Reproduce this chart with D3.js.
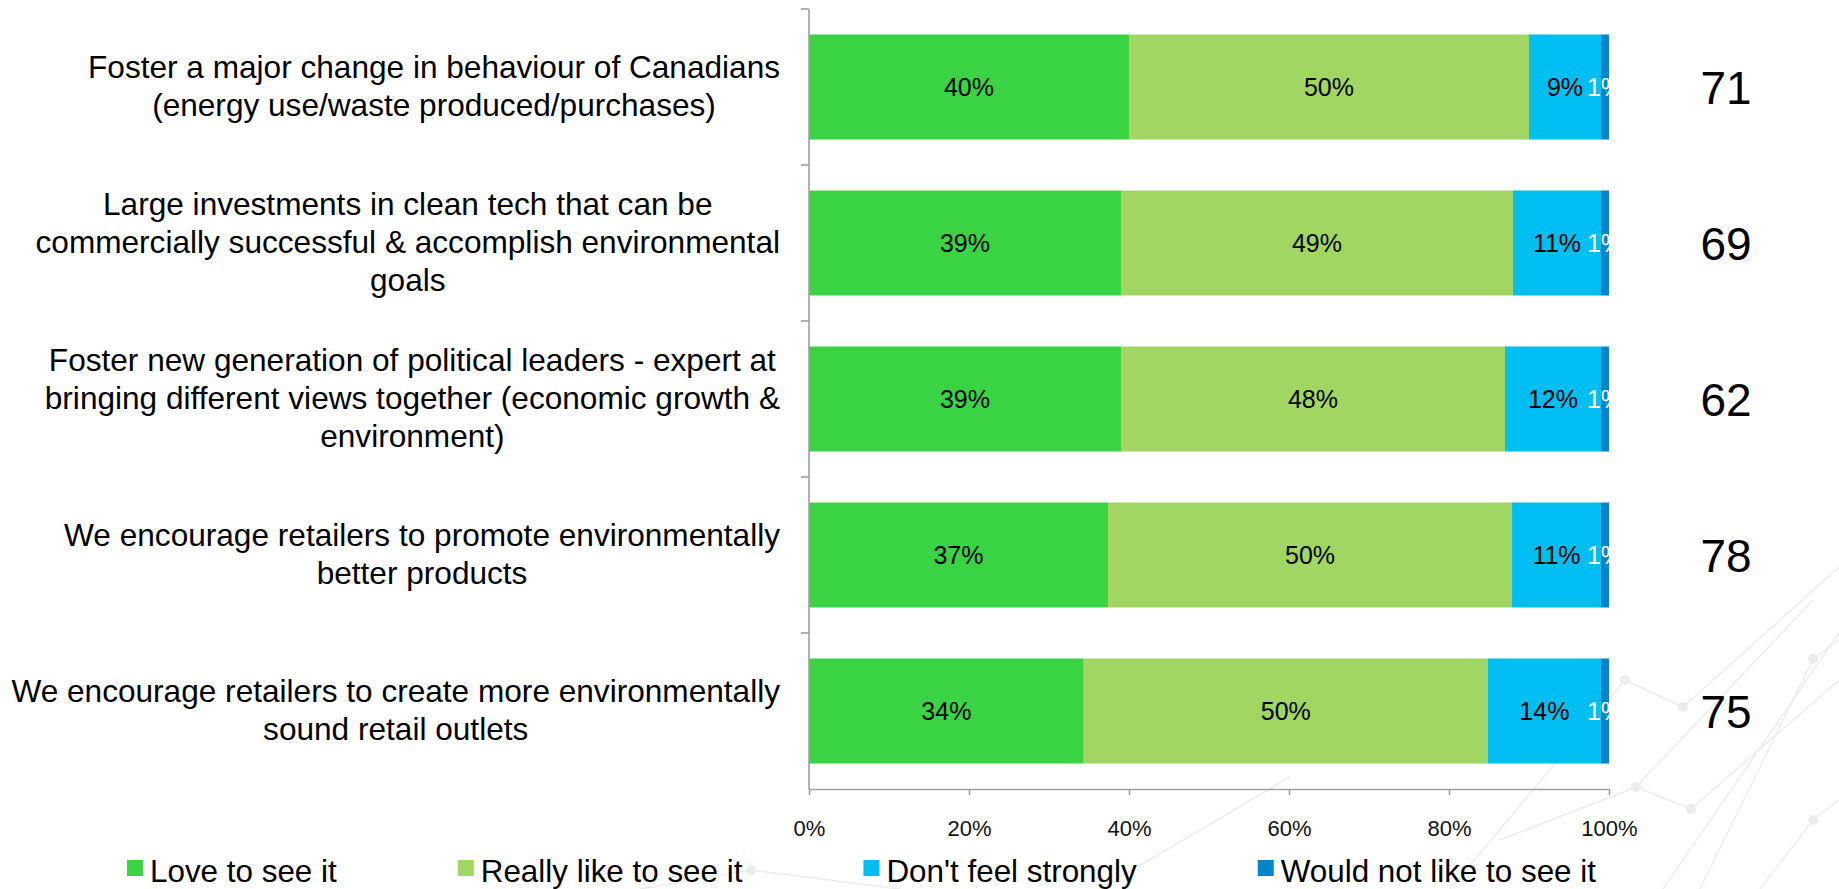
<!DOCTYPE html>
<html>
<head>
<meta charset="utf-8">
<script src="https://cdn.jsdelivr.net/npm/d3@7"></script>
<style>
  html, body { margin: 0; padding: 0; background: #ffffff; }
  svg { display: block; font-family: "Liberation Sans", Arial, sans-serif; }
</style>
</head>
<body>
<svg id="chart" width="1839" height="889"></svg>
<script>
// Survey items (line breaks as wrapped in the category labels)
const categories = [
  "Foster a major change in behaviour of Canadians\n(energy use/waste produced/purchases)",
  "Large investments in clean tech that can be\ncommercially successful & accomplish environmental\ngoals",
  "Foster new generation of political leaders - expert at\nbringing different views together (economic growth &\nenvironment)",
  "We encourage retailers to promote environmentally\nbetter products",
  "We encourage retailers to create more environmentally\nsound retail outlets"
];
const seriesNames = ["Love to see it", "Really like to see it", "Don't feel strongly", "Would not like to see it"];
const loveToSee  = [40, 39, 39, 37, 34];
const reallyLike = [50, 49, 48, 50, 50];
const dontFeel   = [9, 11, 12, 11, 14];
const wouldNot   = [1, 1, 1, 1, 1];
const scores     = [71, 69, 62, 78, 75];
const xTickValues = [0, 0.2, 0.4, 0.6, 0.8, 1];

const colors = ["#39d343", "#a1d662", "#00bdf2", "#0085cc"];
const labelColors = ["#000000", "#000000", "#000000", "#ffffff"];

const svg = d3.select("#chart");

// faint network-pattern backdrop
const deco = svg.append("g").attr("class", "backdrop");
const decoLines = [
  [[1625, 680], [1683, 707]], [[1683, 707], [1839, 567]], [[1625, 680], [1450, 889]],
  [[1813, 659], [1839, 640]], [[1813, 659], [1700, 889]], [[1636, 787], [1691, 809]],
  [[1691, 809], [1839, 680]], [[1636, 787], [1813, 600]], [[1813, 820], [1839, 800]],
  [[1663, 889], [1839, 633]], [[1290, 777], [1100, 889]], [[1500, 840], [1636, 787]],
  [[751, 870], [640, 889]], [[751, 870], [900, 889]], [[1813, 820], [1760, 889]]
];
const decoDots = [[1625, 680], [1683, 707], [1813, 659], [1636, 787], [1691, 809], [1813, 820], [751, 870]];
deco.selectAll("line").data(decoLines).join("line")
  .attr("x1", d => d[0][0]).attr("y1", d => d[0][1])
  .attr("x2", d => d[1][0]).attr("y2", d => d[1][1])
  .attr("stroke", "#ededed").attr("stroke-width", 1.5);
deco.selectAll("circle").data(decoDots).join("circle")
  .attr("cx", d => d[0]).attr("cy", d => d[1]).attr("r", 5)
  .attr("fill", "#ececec");

// plot area
const plot = { left: 809, right: 1609, top: 9, bottom: 789 };

const x = d3.scaleLinear().domain([0, 1]).range([plot.left, plot.right]);
const y = d3.scaleBand().domain(d3.range(categories.length))
  .range([plot.top, plot.bottom]).paddingInner(0.327).paddingOuter(0.1635);

const rows = categories.map((c, i) => ({
  i, s0: loveToSee[i], s1: reallyLike[i], s2: dontFeel[i], s3: wouldNot[i]
}));
const stack = d3.stack().keys(["s0", "s1", "s2", "s3"]).offset(d3.stackOffsetExpand);
const layers = stack(rows);

const bars = svg.append("g");
layers.forEach((layer, k) => {
  const g = bars.append("g");
  g.selectAll("rect").data(layer).join("rect")
    .attr("x", d => x(d[0]))
    .attr("y", d => y(d.data.i))
    .attr("width", d => x(d[1]) - x(d[0]))
    .attr("height", y.bandwidth())
    .attr("fill", colors[k]);
});

// segment value labels
const segLabels = svg.append("g").attr("font-size", 25);
layers.forEach((layer, k) => {
  segLabels.append("g").selectAll("text").data(layer).join("text")
    .attr("x", d => (x(d[0]) + x(d[1])) / 2)
    .attr("y", d => y(d.data.i) + y.bandwidth() / 2 + 9)
    .attr("text-anchor", "middle")
    .attr("fill", labelColors[k])
    .text(d => d.data[layer.key] + "%");
});

// x axis
const axisColor = "#a0a0a0";
const xAxis = svg.append("g")
  .attr("transform", `translate(0,${plot.bottom})`)
  .call(d3.axisBottom(x).tickValues(xTickValues).tickSize(6).tickSizeOuter(0)
    .tickFormat(d3.format(".0%")));
xAxis.select(".domain").attr("stroke", axisColor).attr("stroke-width", 1.6);
xAxis.selectAll(".tick line").attr("stroke", axisColor).attr("stroke-width", 1.6);
xAxis.selectAll(".tick text")
  .attr("font-size", 22).attr("fill", "#111").attr("dy", null).attr("y", 47)
  .attr("font-family", "Liberation Sans, Arial, sans-serif");

// y axis: line with ticks at the category boundaries
const yAxisG = svg.append("g");
yAxisG.append("line")
  .attr("x1", plot.left).attr("x2", plot.left)
  .attr("y1", plot.top).attr("y2", plot.bottom)
  .attr("stroke", axisColor).attr("stroke-width", 1.6);
const boundaries = d3.range(categories.length).map(i => y(i) - y.step() * y.paddingInner() / 2);
yAxisG.selectAll("line.tk").data(boundaries).join("line").attr("class", "tk")
  .attr("x1", plot.left - 8).attr("x2", plot.left)
  .attr("y1", d => d).attr("y2", d => d)
  .attr("stroke", axisColor).attr("stroke-width", 1.6);

// category labels: centred lines, block right-aligned against the axis
const labelRight = 780, lineH = 38;
const catG = svg.append("g").attr("font-size", 31.6).attr("fill", "#000");
categories.forEach((c, i) => {
  const lines = c.split("\n");
  const t = catG.append("text").attr("text-anchor", "middle");
  const cy = y(i) + y.bandwidth() / 2;
  const firstBase = cy - (lines.length - 1) * lineH / 2 + 10;
  lines.forEach((ln, j) => {
    t.append("tspan").attr("y", firstBase + j * lineH).attr("x", 0).text(ln);
  });
  let maxW = 0;
  t.selectAll("tspan").each(function () { maxW = Math.max(maxW, this.getComputedTextLength()); });
  t.selectAll("tspan").attr("x", labelRight - maxW / 2);
});

// overall scores to the right of each bar
svg.append("g").attr("font-size", 46).attr("fill", "#000")
  .selectAll("text").data(scores).join("text")
  .attr("x", 1726)
  .attr("y", (d, i) => y(i) + y.bandwidth() / 2 + 17)
  .attr("text-anchor", "middle")
  .text(d => d);

// legend
const legend = svg.append("g").attr("font-size", 31.4);
let lx = 127;
const ly = 860;
seriesNames.forEach((name, k) => {
  const item = legend.append("g");
  item.append("rect").attr("x", lx).attr("y", ly).attr("width", 16).attr("height", 16).attr("fill", colors[k]);
  const t = item.append("text").attr("x", lx + 23).attr("y", ly + 22).attr("fill", "#000").text(name);
  lx += 23 + t.node().getComputedTextLength() + 121;
});
</script>
</body>
</html>
